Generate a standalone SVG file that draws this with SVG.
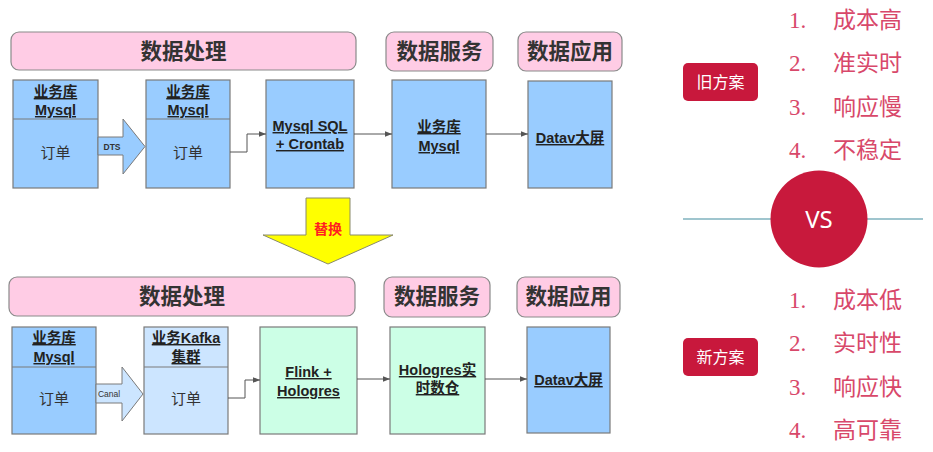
<svg xmlns="http://www.w3.org/2000/svg" width="933" height="452" viewBox="0 0 933 452">
<style>
.banner{fill:#FFCCE5;stroke:#8a8a8a;stroke-width:1.2}
.box{stroke:#7a7a7a;stroke-width:1.2}
.b1{fill:#99CCFF}
.b2{fill:#CCE5FF}
.g{fill:#CCFFE6}
.ht{font-family:"Noto Sans CJK SC","Liberation Sans",sans-serif;font-size:21.5px;font-weight:bold;fill:#333;text-anchor:middle}
.nt{font-family:"Liberation Sans","Noto Sans CJK SC",sans-serif;font-size:14.5px;font-weight:bold;fill:#222;text-anchor:middle;text-decoration:underline}
.bt{font-family:"Noto Sans CJK SC","Liberation Sans",sans-serif;font-size:15px;fill:#333;text-anchor:middle}
.conn{fill:none;stroke:#555;stroke-width:1}
.fat{stroke:#7a7a7a;stroke-width:1}
.li{font-family:"Liberation Serif","Noto Sans CJK SC",serif;font-size:23px;fill:#D8486A}
.btn{fill:#C8183C}
.btxt{font-family:"Noto Sans CJK SC",sans-serif;font-size:16px;fill:#fff;text-anchor:middle}
</style>
<defs>
<marker id="ah" viewBox="0 0 10 10" refX="10" refY="5" markerWidth="7" markerHeight="7" orient="auto" markerUnits="userSpaceOnUse">
<path d="M0,1 L10,5 L0,9 z" fill="#555"/>
</marker>
</defs>

<!-- Top section -->
<g id="banner-top-process"><rect class="banner" x="11" y="32" width="345" height="38" rx="8"/><text class="ht" x="183.5" y="59">数据处理</text></g>
<g id="banner-top-service"><rect class="banner" x="386" y="32" width="107" height="39" rx="8"/><text class="ht" x="439.5" y="59">数据服务</text></g>
<g id="banner-top-app"><rect class="banner" x="518" y="32" width="104" height="39" rx="8"/><text class="ht" x="570" y="59">数据应用</text></g>

<g id="top-mysql-src">
<rect class="box b1" x="13" y="80" width="85" height="108"/>
<line class="box" x1="13" y1="119" x2="98" y2="119"/>
<text class="nt" x="55.5" y="97">业务库</text><text class="nt" x="55.5" y="115">Mysql</text>
<text class="bt" x="55.5" y="158">订单</text>
</g>
<g id="top-mysql-dst">
<rect class="box b1" x="146" y="80" width="84" height="108"/>
<line class="box" x1="146" y1="119" x2="230" y2="119"/>
<text class="nt" x="188" y="97">业务库</text><text class="nt" x="188" y="115">Mysql</text>
<text class="bt" x="188" y="158">订单</text>
</g>
<g id="top-dts">
<path class="fat" d="M98,137 L123,137 L123,119 L145,146.5 L123,174 L123,155 L98,155 z" fill="#99CCFF"/>
<text x="112" y="150" font-family="Liberation Sans,sans-serif" font-size="8.5" font-weight="bold" fill="#333" text-anchor="middle">DTS</text>
</g>
<g id="top-crontab">
<rect class="box b1" x="266" y="80" width="88" height="108"/>
<text class="nt" x="310" y="131">Mysql SQL</text><text class="nt" x="310" y="149">+ Crontab</text>
</g>
<g id="top-service-mysql">
<rect class="box b1" x="392" y="80" width="94" height="108"/>
<text class="nt" x="439" y="132">业务库</text><text class="nt" x="439" y="151">Mysql</text>
</g>
<g id="top-datav">
<rect class="box b1" x="528" y="81" width="84" height="107"/>
<text class="nt" x="570" y="143">Datav大屏</text>
</g>

<!-- replace arrow -->
<g id="replace-arrow">
<path d="M306,198 L350,198 L350,235 L393,235 L328,264 L263,235 L306,235 z" fill="#FFFF00" stroke="#8a8a6a" stroke-width="1"/>
<text x="328" y="234" font-family="Noto Sans CJK SC,sans-serif" font-size="14" font-weight="bold" fill="#FF2020" text-anchor="middle">替换</text>
</g>

<!-- Bottom section -->
<g id="banner-bot-process"><rect class="banner" x="9" y="277" width="346" height="39" rx="8"/><text class="ht" x="182" y="304">数据处理</text></g>
<g id="banner-bot-service"><rect class="banner" x="384" y="277" width="106" height="40" rx="8"/><text class="ht" x="437" y="304">数据服务</text></g>
<g id="banner-bot-app"><rect class="banner" x="517" y="277" width="103" height="40" rx="8"/><text class="ht" x="568.5" y="304">数据应用</text></g>

<g id="bot-mysql-src">
<rect class="box b1" x="12" y="327" width="84" height="107"/>
<line class="box" x1="12" y1="367" x2="96" y2="367"/>
<text class="nt" x="54" y="343">业务库</text><text class="nt" x="54" y="362">Mysql</text>
<text class="bt" x="54" y="404">订单</text>
</g>
<g id="bot-kafka">
<rect class="box b2" x="144" y="327" width="84" height="107"/>
<line class="box" x1="144" y1="367" x2="228" y2="367"/>
<text class="nt" x="186" y="343">业务Kafka</text><text class="nt" x="186" y="362">集群</text>
<text class="bt" x="186" y="404">订单</text>
</g>
<g id="bot-canal">
<path class="fat" d="M96,384 L122,384 L122,367 L143,394 L122,421 L122,403 L96,403 z" fill="#CCE5FF"/>
<text x="109" y="397" font-family="Liberation Sans,sans-serif" font-size="8.5" fill="#333" text-anchor="middle">Canal</text>
</g>
<g id="bot-flink">
<rect class="box g" x="260" y="327" width="97" height="107"/>
<text class="nt" x="308.5" y="377">Flink +</text><text class="nt" x="308.5" y="396">Hologres</text>
</g>
<g id="bot-hologres">
<rect class="box g" x="390" y="327" width="95" height="107"/>
<text class="nt" x="437.5" y="375">Hologres实</text><text class="nt" x="437.5" y="393">时数仓</text>
</g>
<g id="bot-datav">
<rect class="box b1" x="527" y="327" width="83" height="106"/>
<text class="nt" x="568.5" y="385">Datav大屏</text>
</g>

<g id="connectors">
<path class="conn" d="M230,152 L247,152 L247,134 L266,134" marker-end="url(#ah)"/>
<path class="conn" d="M354,134 L392,134" marker-end="url(#ah)"/>
<path class="conn" d="M486,134 L528,134" marker-end="url(#ah)"/>
<path class="conn" d="M228,398 L245,398 L245,380 L260,380" marker-end="url(#ah)"/>
<path class="conn" d="M357,379 L390,379" marker-end="url(#ah)"/>
<path class="conn" d="M485,379 L527,379" marker-end="url(#ah)"/>
</g>

<!-- Right comparison -->
<g id="old-plan"><rect class="btn" x="683" y="63" width="75" height="38" rx="5"/><text class="btxt" x="720.5" y="88">旧方案</text></g>
<g id="old-list">
<text class="li" x="789" y="28">1.</text><text class="li" x="833" y="28">成本高</text>
<text class="li" x="789" y="71">2.</text><text class="li" x="833" y="71">准实时</text>
<text class="li" x="789" y="115">3.</text><text class="li" x="833" y="115">响应慢</text>
<text class="li" x="789" y="158">4.</text><text class="li" x="833" y="158">不稳定</text>
</g>
<g id="vs">
<line x1="683" y1="219" x2="923" y2="219" stroke="#7FB2BE" stroke-width="1.5"/>
<circle cx="819" cy="219" r="48.5" fill="#C8193C"/>
<text x="819" y="228" font-family="Noto Sans,Liberation Sans,sans-serif" font-size="24" fill="#fff" text-anchor="middle">VS</text>
</g>
<g id="new-plan"><rect class="btn" x="683" y="338" width="75" height="38" rx="5"/><text class="btxt" x="720.5" y="363">新方案</text></g>
<g id="new-list">
<text class="li" x="789" y="308">1.</text><text class="li" x="833" y="308">成本低</text>
<text class="li" x="789" y="351">2.</text><text class="li" x="833" y="351">实时性</text>
<text class="li" x="789" y="395">3.</text><text class="li" x="833" y="395">响应快</text>
<text class="li" x="789" y="438">4.</text><text class="li" x="833" y="438">高可靠</text>
</g>
</svg>
